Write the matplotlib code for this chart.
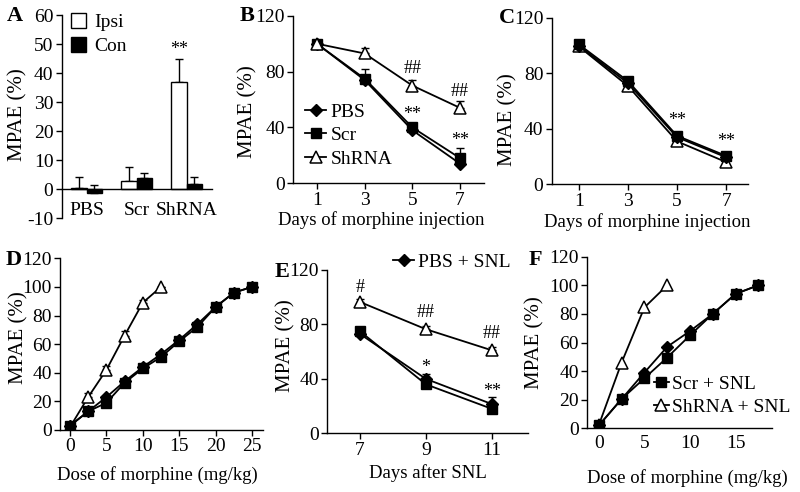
import numpy as np
import matplotlib
matplotlib.use("Agg")
import matplotlib.pyplot as plt

plt.rcParams['font.family'] = ['Liberation Serif', 'DejaVu Serif']
plt.rcParams['font.size'] = 13
plt.rcParams['axes.linewidth'] = 1.0
plt.rcParams['axes.unicode_minus'] = False

# ---------------- Data ----------------
# Panel A
groups_a = ["PBS", "Scr", "ShRNA"]
ipsi_a = [0.5, 2.9, 37.0]
ipsi_err_a = [3.6, 4.9, 7.7]
con_a = [-1.4, 3.9, 1.7]
con_err_a = [2.9, 1.6, 2.5]

# Panel B
days_b = [1, 3, 5, 7]
pbs_b = [100, 74, 38, 14]
scr_b = [100, 75, 40, 18]
shrna_b = [100, 93, 70, 54]
scr_err_b = [1, 7, 2, 7]
shrna_err_b = [1, 4, 4, 5]

# Panel C
days_c = [1, 3, 5, 7]
pbs_c = [100, 73, 34, 19.5]
scr_c = [101, 74.5, 35, 20.5]
shrna_c = [99.5, 71, 31, 16]

# Panel D
dose_d_all = [0, 2.5, 5, 7.5, 10, 12.5, 15, 17.5, 20, 22.5, 25]
dose_d_sh = [0, 2.5, 5, 7.5, 10, 12.5]
pbs_d = [3, 13, 23, 34, 44, 53, 63, 74, 86, 96, 100]
scr_d = [3, 13, 19, 33, 43, 51, 62, 72, 86, 96, 100]
shrna_d = [2, 23, 42, 66, 89, 100]
shrna_err_d = [1, 3, 3, 3, 2, 0]

# Panel E
days_e = [7, 9, 11]
pbs_e = [73, 40, 21.5]
scr_e = [75, 36, 18]
shrna_e = [96.5, 76.5, 61]
pbs_err_e = [1, 3.5, 5]
shrna_err_e = [2, 2, 2.5]

# Panel F
dose_f_all = [0, 2.5, 5, 7.5, 10, 12.5, 15, 17.5]
dose_f_sh = [0, 2.5, 5, 7.5]
pbs_f = [2, 20.5, 39, 57, 68, 80, 94, 100]
scr_f = [2, 20.5, 35, 49.5, 65, 80, 94, 100]
shrna_f = [2.3, 46, 84.5, 100]

W, H = 800, 492
fig = plt.figure(figsize=(8.0, 4.92), dpi=100)

TICK_FS = 14
LEG_FS = 14
YLAB_FS = 15
XLAB_FS = 13.5
ANN_FS = 13


def make_ax(left, top, right, bottom):
    return fig.add_axes([left / W, 1 - bottom / H, (right - left) / W, (bottom - top) / H])


def style(ax):
    ax.spines['top'].set_visible(False)
    ax.spines['right'].set_visible(False)
    ax.tick_params(direction='out', length=4, width=1, labelsize=TICK_FS, pad=2)


def ylab(ax, x, y):
    ax.set_ylabel('MPAE (%)', fontsize=YLAB_FS, va='center', ha='center')
    ax.yaxis.set_label_coords(x, y)


def xlab(ax, text, x, y):
    ax.set_xlabel(text, fontsize=XLAB_FS, va='center', ha='center')
    ax.xaxis.set_label_coords(x, y)


mk = dict(color='black', lw=1.3)
pbs_style = dict(marker='D', markersize=6, markerfacecolor='black', markeredgecolor='black', **mk)
scr_style = dict(marker='s', markersize=7, markerfacecolor='black', markeredgecolor='black', **mk)
sh_style = dict(marker='^', markersize=8, markerfacecolor='white', markeredgecolor='black', markeredgewidth=1.1, **mk)
eb = dict(fmt='none', ecolor='black', elinewidth=1.0, capsize=3, capthick=1.0)
leg_kw = dict(frameon=False, fontsize=LEG_FS, handlelength=1.1, handletextpad=0.2,
              labelspacing=0.3, borderaxespad=0, borderpad=0)


def up_err(ax, x, y, e):
    ax.errorbar(x, y, yerr=[np.zeros(len(e)), e], zorder=1, **eb)


# ---------------- Panel A ----------------
axA = make_ax(61.7, 15, 211.7, 218.3)
style(axA)
xa = np.arange(len(groups_a))
w = 0.31
axA.bar(xa - w / 2, ipsi_a, w, facecolor='white', edgecolor='black', lw=1.0, label='Ipsi', zorder=2)
axA.bar(xa + w / 2, con_a, w, facecolor='black', edgecolor='black', lw=1.0, label='Con', zorder=2)
axA.errorbar(xa - w / 2, ipsi_a, yerr=[np.zeros(3), ipsi_err_a], zorder=1, **eb)
axA.errorbar(xa + w / 2, con_a, yerr=[np.zeros(3), con_err_a], zorder=1, **eb)
axA.set_xlim(-0.5, 2.5)
axA.set_ylim(-10, 60)
axA.set_yticks(range(-10, 61, 10))
axA.spines['bottom'].set_position(('data', 0))
axA.set_xticks([])
for i, g in enumerate(groups_a):
    axA.text(i, -7.3, g, ha='center', va='center', fontsize=TICK_FS)
axA.text(xa[2] - w / 2, 48, '**', ha='center', va='center', fontsize=ANN_FS)
ylab(axA, -0.291, 0.508)
axA.legend(loc='upper left', bbox_to_anchor=(0.06, 1.01), handleheight=0.8,
           **{**leg_kw, 'handlelength': 0.8, 'handletextpad': 0.4})

# ---------------- Panel B ----------------
axB = make_ax(293, 15.8, 484, 183.3)
style(axB)
up_err(axB, days_b, shrna_b, shrna_err_b)
up_err(axB, days_b, scr_b, scr_err_b)
axB.plot(days_b, pbs_b, label='PBS', **pbs_style)
axB.plot(days_b, scr_b, label='Scr', **scr_style)
axB.plot(days_b, shrna_b, label='ShRNA', **sh_style)
axB.set_xlim(0, 8)
axB.set_ylim(0, 120)
axB.set_xticks(days_b)
axB.set_yticks([0, 40, 80, 120])
xlab(axB, 'Days of morphine injection', 0.46, -0.219)
ylab(axB, -0.236, 0.429)
for xx, yy, t in [(5, 82, '##'), (7, 66, '##'), (5, 49, '**'), (7, 31, '**')]:
    axB.text(xx, yy, t, ha='center', va='center', fontsize=ANN_FS)
axB.legend(loc='upper left', bbox_to_anchor=(0.063, 0.479), **leg_kw)

# ---------------- Panel C ----------------
axC = make_ax(551.7, 18, 748.3, 184.3)
style(axC)
axC.plot(days_c, shrna_c, **sh_style)
axC.plot(days_c, pbs_c, **pbs_style)
axC.plot(days_c, scr_c, **scr_style)
axC.set_xlim(-0.1, 7.9)
axC.set_ylim(0, 120)
axC.set_xticks(days_c)
axC.set_yticks([0, 40, 80, 120])
xlab(axC, 'Days of morphine injection', 0.487, -0.227)
ylab(axC, -0.222, 0.387)
for xx, yy, t in [(5, 46, '**'), (7, 31, '**')]:
    axC.text(xx, yy, t, ha='center', va='center', fontsize=ANN_FS)

# ---------------- Panel D ----------------
axD = make_ax(60, 258.3, 263, 430)
style(axD)
up_err(axD, dose_d_sh, shrna_d, shrna_err_d)
axD.plot(dose_d_sh, shrna_d, **sh_style)
axD.plot(dose_d_all, pbs_d, **pbs_style)
axD.plot(dose_d_all, scr_d, **scr_style)
axD.set_xlim(-1.37, 26.5)
axD.set_ylim(0, 120)
axD.set_xticks([0, 5, 10, 15, 20, 25])
axD.set_yticks(range(0, 121, 20))
xlab(axD, 'Dose of morphine (mg/kg)', 0.478, -0.262)
ylab(axD, -0.202, 0.536)

# ---------------- Panel E ----------------
axE = make_ax(327, 270, 528, 433.3)
style(axE)
up_err(axE, days_e, shrna_e, shrna_err_e)
up_err(axE, days_e, pbs_e, pbs_err_e)
axE.plot(days_e, shrna_e, **sh_style)
axE.plot(days_e, pbs_e, label='PBS + SNL', **pbs_style)
axE.plot(days_e, scr_e, **scr_style)
axE.set_xlim(6, 12.1)
axE.set_ylim(0, 120)
axE.set_xticks(days_e)
axE.set_yticks([0, 40, 80, 120])
xlab(axE, 'Days after SNL', 0.5, -0.243)
ylab(axE, -0.204, 0.535)
for xx, yy, t in [(7, 107, '#'), (9, 89, '##'), (11, 73, '##'), (9, 48, '*'), (11, 31, '**')]:
    axE.text(xx, yy, t, ha='center', va='center', fontsize=ANN_FS)
axE.legend(loc='center left', bbox_to_anchor=(0.328, 1.049), **leg_kw)

# ---------------- Panel F ----------------
axF = make_ax(587, 256.7, 772, 428.3)
style(axF)
axF.plot(dose_f_sh, shrna_f, label='ShRNA + SNL', **sh_style)
axF.plot(dose_f_all, pbs_f, **pbs_style)
axF.plot(dose_f_all, scr_f, label='Scr + SNL', **scr_style)
axF.set_xlim(-1.3, 19.0)
axF.set_ylim(0, 120)
axF.set_xticks([0, 5, 10, 15])
axF.tick_params(axis='x', length=0, pad=5)
axF.set_yticks(range(0, 121, 20))
xlab(axF, 'Dose of morphine (mg/kg)', 0.543, -0.29)
ylab(axF, -0.281, 0.497)
hF, lF = axF.get_legend_handles_labels()
axF.legend([hF[1], hF[0]], [lF[1], lF[0]], loc='upper left', bbox_to_anchor=(0.36, 0.31),
           **{**leg_kw, 'handlelength': 0.8, 'handletextpad': 0.15})

# ---------------- Panel letters ----------------
for lab, px, py in [('A', 15, 16), ('B', 247, 16), ('C', 507, 18),
                    ('D', 14, 260), ('E', 282, 272), ('F', 535, 260)]:
    fig.text(px / W, 1 - py / H, lab, fontsize=16, fontweight='bold', ha='center', va='center')

fig.savefig('out.png', dpi=100)
